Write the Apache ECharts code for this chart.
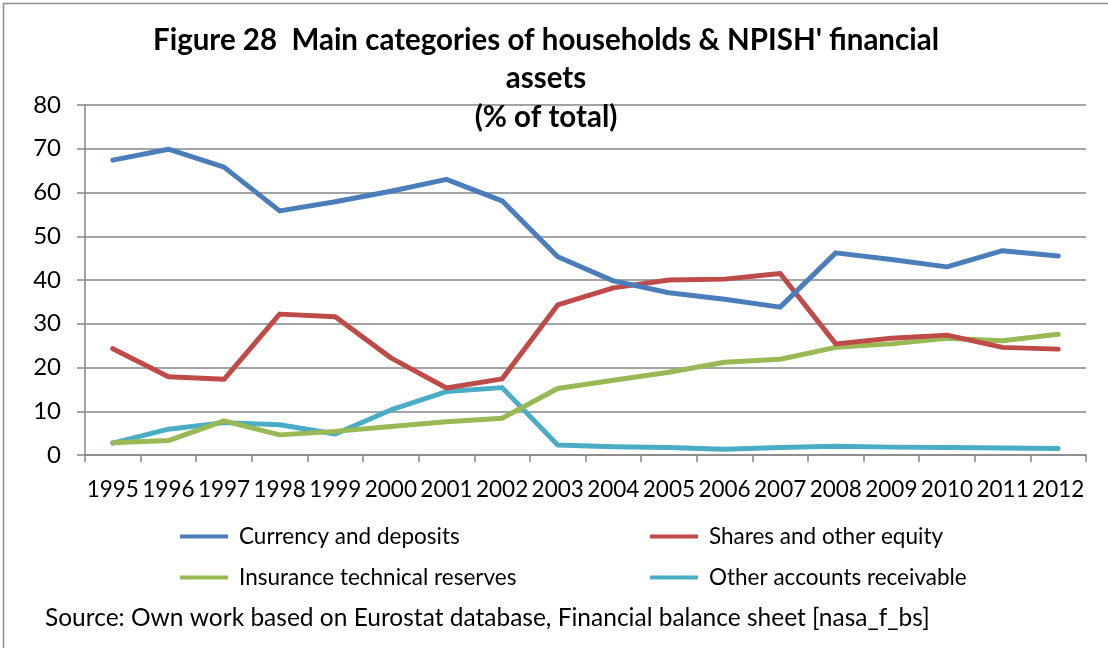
<!DOCTYPE html>
<html><head><meta charset="utf-8">
<script src="https://cdn.jsdelivr.net/npm/echarts@6/dist/echarts.min.js"></script>
<style>html,body{margin:0;padding:0;background:#fff}#c{width:1108px;height:648px}</style>
</head><body><div id="c"></div>
<script>
const years = ['1995','1996','1997','1998','1999','2000','2001','2002','2003','2004','2005','2006','2007','2008','2009','2010','2011','2012'];
const currency = [67.4,69.9,65.8,55.8,57.9,60.3,63.0,58.1,45.3,39.8,37.1,35.6,33.8,46.2,44.7,43.0,46.7,45.5];
const shares = [24.3,17.9,17.3,32.2,31.6,22.2,15.3,17.4,34.3,38.2,40.0,40.2,41.5,25.4,26.7,27.4,24.6,24.2];
const insurance = [2.8,3.3,7.8,4.6,5.4,6.5,7.6,8.4,15.2,17.1,18.9,21.2,21.9,24.6,25.4,26.7,26.1,27.6];
const otherAcc = [2.7,5.9,7.4,6.9,4.8,10.3,14.5,15.4,2.3,1.9,1.7,1.3,1.7,2.0,1.8,1.7,1.6,1.5];
const yTicks = [0,10,20,30,40,50,60,70,80];
const names = ['Currency and deposits','Shares and other equity','Insurance technical reserves','Other accounts receivable'];
const sourceText = 'Source: Own work based on Eurostat database, Financial balance sheet [nasa_f_bs]';
const colors = ['#4A7EBB','#BE4B48','#98B954','#4BACC6'];
const FONT = 'Lato';
const chart = echarts.init(document.getElementById('c'));
const mkLegend = (name, left, top) => ({
  data:[name], left:left, top:top, padding:0, icon:'rect', itemWidth:48, itemHeight:4, itemGap:0,
  textStyle:{fontFamily:FONT,fontSize:22.5,color:'#000',padding:[0,0,0,6]}, selectedMode:false
});
chart.setOption({
  animation:false,
  textStyle:{fontFamily:FONT},
  graphic:[
    {type:'rect',shape:{x:3.5,y:3.5,width:1120,height:660},style:{fill:'none',stroke:'#8c8c8c',lineWidth:1.5},silent:true},
    {type:'text',left:45,top:606,style:{text:sourceText,fontFamily:FONT,fontSize:24.5,fill:'#000'},silent:true}
  ],
  title:{text:"Figure 28  Main categories of households & NPISH' financial\nassets\n(% of total)",
    left:541, top:16, textAlign:'center',
    textStyle:{fontFamily:FONT,fontSize:29.5,fontWeight:'bold',color:'#000',lineHeight:38.5}},
  legend:[mkLegend(names[0],180,525),mkLegend(names[1],650,525),mkLegend(names[2],180,566),mkLegend(names[3],650,566)],
  grid:{left:85,right:22,top:105,bottom:193,containLabel:false},
  xAxis:{type:'category',data:years,boundaryGap:true,
    axisLine:{lineStyle:{color:'#868686',width:1.5}},
    axisTick:{show:true,length:7,alignWithLabel:false,lineStyle:{color:'#868686',width:1.5}},
    axisLabel:{interval:0,fontFamily:FONT,fontSize:22.5,color:'#000',margin:23}},
  yAxis:{type:'value',min:0,max:80,interval:10,
    axisLine:{show:true,lineStyle:{color:'#868686',width:1.5}},
    axisTick:{show:true,length:8,lineStyle:{color:'#868686',width:1.5}},
    axisLabel:{fontFamily:FONT,fontSize:24,color:'#000',margin:24,
      formatter:v=>yTicks.includes(v)?String(v):''},
    splitLine:{lineStyle:{color:'#868686',width:1.5}}},
  series:[currency,shares,insurance,otherAcc].map((d,i)=>({
    name:names[i],type:'line',data:d,symbol:'none',color:colors[i],
    lineStyle:{width:5,color:colors[i],join:'round',cap:'round'},z:10-i
  }))
});
</script></body></html>
